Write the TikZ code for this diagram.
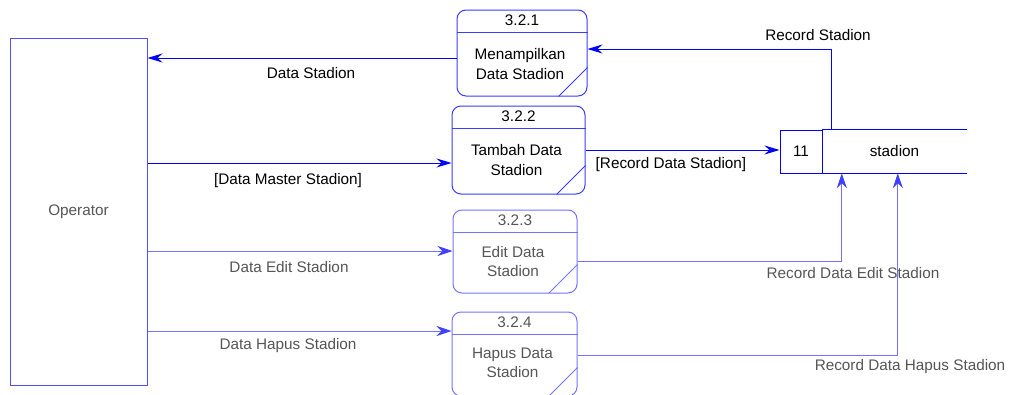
\documentclass[tikz,border=0pt]{standalone}
\usepackage{fontspec}
\setmainfont{Liberation Sans}
\usetikzlibrary{arrows.meta}
\definecolor{dfdblue}{RGB}{0,0,255}
\definecolor{dfdmid}{RGB}{60,60,255}
\definecolor{dfdlight}{RGB}{115,115,255}
\definecolor{dfdgray}{RGB}{85,85,85}
\tikzset{
	proc/.style={draw=dfdmid, rounded corners=9pt, inner sep=0pt, line width=1pt},
	proclt/.style={proc, draw=dfdlight},
	flow/.style={draw=dfdblue, line width=1pt, -{Stealth[length=15pt, width=9pt, inset=5pt]}},
	flowlt/.style={draw=dfdlight, line width=1pt, -{Stealth[length=15pt, width=10pt, inset=5pt, color=dfdblue!75]}},
	lbl/.style={font=\fontsize{15.3}{19.5}\selectfont, inner sep=0pt, align=center},
	lbllt/.style={lbl, text=dfdgray},
}

\begin{document}
\begin{tikzpicture}[x=1pt, y=-1pt]
		%%%%% START %%%%%
		\useasboundingbox (0,0) rectangle (1010,394);
		
		\node[lbllt, draw=dfdlight!70!dfdblue, line width=1pt, minimum width=137, minimum height=347] (op) at (78.5,211.5) {Operator};
		
		% processes
		\node[proc, minimum width=130, minimum height=86] (p1) at (522,53) {};
		\node[proc, minimum width=133, minimum height=88] (p2) at (518.5,150) {};
		\node[proclt, minimum width=124, minimum height=83] (p3) at (515,251.5) {};
		\node[proclt, minimum width=125, minimum height=84] (p4) at (514.5,354) {};
		
		\draw[draw=dfdmid, line width=1pt] ([yshift=-22.5pt]p1.north west) -- ([yshift=-22.5pt]p1.north east);
		\draw[draw=dfdmid, line width=1pt] ([yshift=-22.5pt]p2.north west) -- ([yshift=-22.5pt]p2.north east);
		\draw[draw=dfdlight, line width=1pt] ([yshift=-22.5pt]p3.north west) -- ([yshift=-22.5pt]p3.north east);
		\draw[draw=dfdlight, line width=1pt] ([yshift=-22.5pt]p4.north west) -- ([yshift=-22.5pt]p4.north east);
		
		\draw[draw=dfdmid, line width=1pt] ([xshift=-29pt]p1.south east) -- ([yshift=29pt]p1.south east);
		\draw[draw=dfdmid, line width=1pt] ([xshift=-29pt]p2.south east) -- ([yshift=29pt]p2.south east);
		\draw[draw=dfdlight, line width=1pt] ([xshift=-29pt]p3.south east) -- ([yshift=29pt]p3.south east);
		\draw[draw=dfdlight, line width=1pt] ([xshift=-29pt]p4.south east) -- ([yshift=29pt]p4.south east);
		
		\node[lbl] (p1num) at ([yshift=-11pt]p1.north) {3.2.1};
		\node[lbl] (p2num) at ([yshift=-11pt]p2.north) {3.2.2};
		\node[lbllt] (p3num) at ([yshift=-11pt]p3.north) {3.2.3};
		\node[lbllt] (p4num) at ([yshift=-11pt]p4.north) {3.2.4};
		
		\node[lbl] (p1txt) at ([xshift=-2pt, yshift=-11pt]p1.center) {Menampilkan\\Data Stadion};
		\node[lbl] (p2txt) at ([xshift=-2pt, yshift=-10pt]p2.center) {Tambah Data\\Stadion};
		\node[lbllt] (p3txt) at ([xshift=-2pt, yshift=-10pt]p3.center) {Edit Data\\Stadion};
		\node[lbllt] (p4txt) at ([xshift=-2pt, yshift=-9pt]p4.center) {Hapus Data\\Stadion};
		
		% data store
		\node[lbl, draw=dfdblue, line width=1pt, minimum width=42, minimum height=43] (st11) at (801,151.5) {11};
		\node[lbl, minimum width=145, minimum height=43] (st) at (894.5,151.5) {stadion};
		\draw[draw=dfdblue, line width=1pt] (st.north west) -- (st.north east);
		\draw[draw=dfdblue, line width=1pt] (st.south west) -- (st.south east);
		
		% flows
		\draw[flow] ([xshift=10pt]st.north west) |- (p1.east |- 0,49);
		\draw[flow] (p1.west |- 0,58) -- (op.east |- 0,58);
		\draw[flow] (op.east |- 0,163) -- (p2.west |- 0,163);
		\draw[flow] (p2.east |- 0,150) -- (st11.west |- 0,150);
		\draw[flowlt] (op.east |- 0,251) -- (p3.west |- 0,251);
		\draw[flowlt] (p3.east |- 0,261) -| ([xshift=20pt]st.south west);
		\draw[flowlt] (op.east |- 0,331) -- (p4.west |- 0,331);
		\draw[flowlt] (p4.east |- 0,355) -| ([xshift=76pt]st.south west);
		
		\node[lbl] (lRecSt) at (818,35) {Record Stadion};
		\node[lbl] (lDataSt) at (311,73) {Data Stadion};
		\node[lbl] (lMaster) at (288,181) {[Data Master Stadion]};
		\node[lbl] (lRecData) at (671,165) {[Record Data Stadion]};
		\node[lbllt] (lEdit) at (289,267) {Data Edit Stadion};
		\node[lbllt] (lRecEdit) at (853,273) {Record Data Edit Stadion};
		\node[lbllt] (lHapus) at (288,346) {Data Hapus Stadion};
		\node[lbllt] (lRecHapus) at (910,367) {Record Data Hapus Stadion};
		
		%%%%% END %%%%%
\end{tikzpicture}
\end{document}
